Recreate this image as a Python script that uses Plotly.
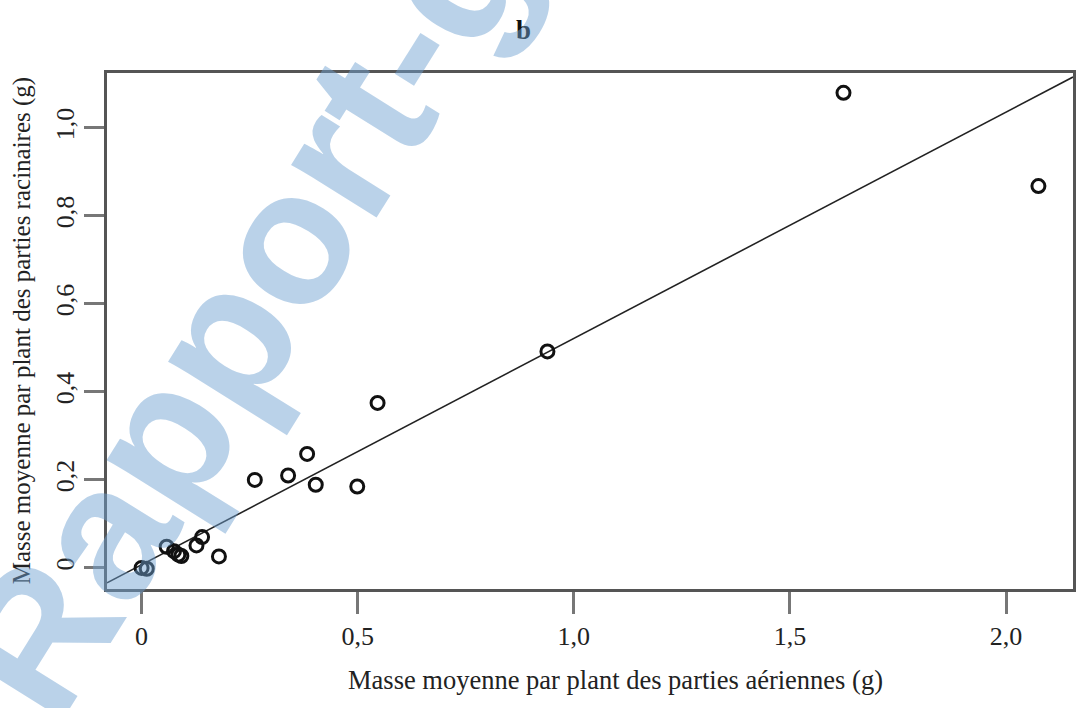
import plotly.graph_objects as go

# Masse moyenne par plant : parties aériennes (x) vs parties racinaires (y), en g
aerial_mass = [0.000, 0.012, 0.058, 0.075, 0.085, 0.092, 0.127, 0.140, 0.179,
               0.262, 0.339, 0.383, 0.403, 0.499, 0.546, 0.939, 1.624, 2.075]
root_mass = [0.000, -0.002, 0.048, 0.038, 0.030, 0.027, 0.051, 0.070, 0.026,
             0.200, 0.210, 0.259, 0.189, 0.185, 0.375, 0.492, 1.080, 0.868]

# Droite de régression (ordonnée à l'origine, pente)
fit_intercept = 0.007
fit_slope = 0.5145

x_range = [-0.080, 2.155]
y_range = [-0.048, 1.125]

x_tickvals = [0, 0.5, 1.0, 1.5, 2.0]
x_ticktext = ["0", "0,5", "1,0", "1,5", "2,0"]
y_tickvals = [0, 0.2, 0.4, 0.6, 0.8, 1.0]
y_ticktext = ["0", "0,2", "0,4", "0,6", "0,8", "1,0"]

title_text = "b"
x_title = "Masse moyenne par plant des parties aériennes (g)"
y_title = "Masse moyenne par plant des parties racinaires (g)"
watermark = "Rapport-gratuit.com"

serif = "Liberation Serif, Times New Roman, serif"
axis_col = "#555555"

fig = go.Figure()

# droite ajustée sur toute la largeur du cadre
fig.add_trace(go.Scatter(
    x=x_range,
    y=[fit_intercept + fit_slope * v for v in x_range],
    mode="lines",
    line=dict(color="#222222", width=1.6),
    hoverinfo="skip",
    showlegend=False,
))

fig.add_trace(go.Scatter(
    x=aerial_mass, y=root_mass,
    mode="markers",
    marker=dict(symbol="circle-open", size=13, color="#111111",
                line=dict(width=3, color="#111111")),
    showlegend=False,
))

fig.update_layout(
    width=1080, height=708,
    margin=dict(l=107, r=4, t=73, b=119),
    paper_bgcolor="white", plot_bgcolor="white",
    font=dict(family=serif, size=25, color="#222222"),
)

fig.update_xaxes(
    range=x_range, showgrid=False, zeroline=False,
    showline=True, linecolor=axis_col, linewidth=2.5, mirror=True,
    ticks="outside", ticklen=22, tickwidth=2.5, tickcolor="#777777",
    tickvals=x_tickvals, ticktext=x_ticktext,
    tickfont=dict(family=serif, size=26, color="#222222"),
)
fig.update_yaxes(
    range=y_range, showgrid=False, zeroline=False,
    showline=True, linecolor=axis_col, linewidth=2.5, mirror=True,
    ticks="outside", ticklen=20, tickwidth=2.5, tickcolor="#777777",
    tickvals=y_tickvals, ticktext=y_ticktext, tickangle=-90,
    tickfont=dict(family=serif, size=26, color="#222222"),
)

annotations = [
    dict(text=title_text, x=0.431, y=1.083, xref="paper", yref="paper",
         showarrow=False, xanchor="center", yanchor="middle",
         font=dict(family=serif, size=27, color="#111111", weight="bold")),
    dict(text=x_title, x=0.526, y=-0.176, xref="paper", yref="paper",
         showarrow=False, xanchor="center", yanchor="middle",
         font=dict(family=serif, size=26.5, color="#222222")),
    dict(text=y_title, x=-0.0877, y=0.5, xref="paper", yref="paper",
         showarrow=False, xanchor="center", yanchor="middle", textangle=-90,
         font=dict(family=serif, size=25, color="#222222")),
    # filigrane diagonal semi-transparent
    dict(text=watermark, x=0.390, y=1.295, xref="paper", yref="paper",
         showarrow=False, xanchor="center", yanchor="middle", textangle=-58,
         font=dict(family="Liberation Sans, Arial, sans-serif", size=190,
                   color="rgba(110,160,210,0.48)", weight="bold")),
]
fig.update_layout(annotations=annotations)

fig.write_html("out.html")
